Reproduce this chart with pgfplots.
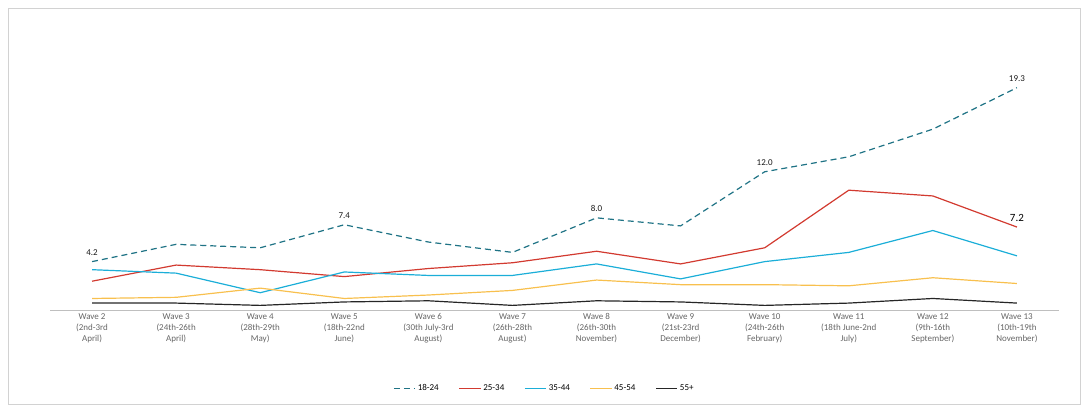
\documentclass[border=0pt]{standalone}
\usepackage{pgfplots}
\pgfplotsset{compat=1.18}
\usepackage{fontspec}
\setmainfont{Carlito}
\definecolor{cA}{HTML}{1F7385}
\definecolor{cB}{HTML}{D23A30}
\definecolor{cC}{HTML}{1BAED8}
\definecolor{cD}{HTML}{F8C04E}
\definecolor{cE}{HTML}{262626}
\begin{document}
\begin{tikzpicture}[x=1pt,y=1pt]
\path (0,0) rectangle (1088,410);
\draw[gray!35] (8,6) rectangle (1080,402);
\begin{axis}[at={(50pt,100pt)},anchor=south west,scale only axis,
 width=1009pt,height=288pt,
 xmin=-0.5,xmax=11.5,ymin=0,ymax=25,
 ytick={0,5,10,15,20,25},
 yticklabel style={/pgf/number format/fixed,/pgf/number format/fixed zerofill,/pgf/number format/precision=1,font=\fontsize{9}{10}\selectfont,text=gray!80!black},
 /pgf/number format/assume math mode=true,
 xtick={0,...,11},
 xticklabels={{Wave 2\\(2nd-3rd\\April)},{Wave 3\\(24th-26th\\April)},{Wave 4\\(28th-29th\\May)},{Wave 5\\(18th-22nd\\June)},{Wave 6\\(30th July-3rd\\August)},{Wave 7\\(26th-28th\\August)},{Wave 8\\(26th-30th\\November)},{Wave 9\\(21st-23rd\\December)},{Wave 10\\(24th-26th\\February)},{Wave 11\\(18th June-2nd\\July)},{Wave 12\\(9th-16th\\September)},{Wave 13\\(10th-19th\\November)}},
 xticklabel style={align=center,font=\fontsize{9}{11}\selectfont,text=gray!80!black},
 axis x line*=bottom, axis y line=none,
 x axis line style={gray!50,-},
 major tick length=0pt,
 ytick style={draw=none},
 legend style={at={(0.49,-0.245)},anchor=north,draw=none,legend columns=5,font=\fontsize{9}{10}\selectfont,/tikz/every even column/.append style={column sep=18pt}},
 legend image code/.code={\draw[#1] (0,0) -- (0.75cm,0);},
 clip=false
]
\addplot[cA,very thick,dash pattern=on 6pt off 4pt] coordinates {(0,4.2)(1,5.7)(2,5.4)(3,7.4)(4,5.9)(5,5.0)(6,8.0)(7,7.3)(8,12.0)(9,13.3)(10,15.7)(11,19.3)};
\addplot[cB,very thick] coordinates {(0,2.5)(1,3.9)(2,3.5)(3,2.9)(4,3.6)(5,4.1)(6,5.1)(7,4.0)(8,5.4)(9,10.4)(10,9.9)(11,7.2)};
\addplot[cC,very thick] coordinates {(0,3.5)(1,3.2)(2,1.5)(3,3.3)(4,3.0)(5,3.0)(6,4.0)(7,2.7)(8,4.2)(9,5.0)(10,6.9)(11,4.7)};
\addplot[cD,very thick] coordinates {(0,1.0)(1,1.1)(2,1.9)(3,1.0)(4,1.3)(5,1.7)(6,2.6)(7,2.2)(8,2.2)(9,2.1)(10,2.8)(11,2.3)};
\addplot[cE,very thick] coordinates {(0,0.6)(1,0.6)(2,0.4)(3,0.7)(4,0.8)(5,0.4)(6,0.8)(7,0.7)(8,0.4)(9,0.6)(10,1.0)(11,0.6)};
\legend{18-24,25-34,35-44,45-54,55+}
\node[above,font=\fontsize{9}{10}\selectfont,text=gray!20!black,yshift=3pt] at (axis cs:0,4.2) {4.2};
\node[above,font=\fontsize{9}{10}\selectfont,text=gray!20!black,yshift=3pt] at (axis cs:3,7.4) {7.4};
\node[above,font=\fontsize{9}{10}\selectfont,text=gray!20!black,yshift=3pt] at (axis cs:6,8.0) {8.0};
\node[above,font=\fontsize{9}{10}\selectfont,text=gray!20!black,yshift=3pt] at (axis cs:8,12.0) {12.0};
\node[above,font=\fontsize{9}{10}\selectfont,text=gray!20!black,yshift=3pt] at (axis cs:11,19.3) {19.3};
\node[above,font=\fontsize{11}{12}\selectfont,text=black,yshift=2pt] at (axis cs:11,7.2) {7.2};
\end{axis}
\end{tikzpicture}
\end{document}
